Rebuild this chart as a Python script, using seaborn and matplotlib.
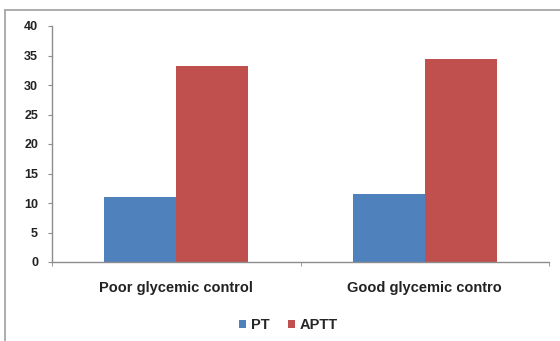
import pandas as pd
import matplotlib
matplotlib.use('Agg')
import matplotlib.pyplot as plt
from matplotlib.lines import Line2D
import seaborn as sns

groups = ['Poor glycemic control', 'Good glycemic contro']
tests = ['PT', 'APTT']
pt_values = [11.1, 11.5]
aptt_values = [33.2, 34.4]
y_ticks = [0, 5, 10, 15, 20, 25, 30, 35, 40]

sns.set_style('white')
plt.rcParams['font.family'] = ['Liberation Sans', 'DejaVu Sans']
plt.rcParams['font.weight'] = 'bold'

df = pd.DataFrame({
    'group': groups * 2,
    'test': ['PT'] * len(groups) + ['APTT'] * len(groups),
    'value': pt_values + aptt_values,
})

fig = plt.figure(figsize=(5.6, 3.41), dpi=100)
ax = fig.add_axes([52 / 560, 1 - 262 / 341, (549 - 52) / 560, (262 - 26) / 341])

sns.barplot(data=df, x='group', y='value', hue='test', hue_order=tests,
            palette=['#4F81BD', '#C0504D'], saturation=1, width=0.58,
            linewidth=0, ax=ax)

ax.set_xlim(-0.5, 1.5)
ax.set_ylim(0, 40)
ax.set_yticks(y_ticks)
ax.set_xlabel('')
ax.set_ylabel('')

for s in ['top', 'right']:
    ax.spines[s].set_visible(False)
for s in ['left', 'bottom']:
    ax.spines[s].set_color('#8c8c8c')
    ax.spines[s].set_linewidth(1)

ax.tick_params(axis='y', length=3, color='#8c8c8c', labelsize=9,
               labelcolor='#222222', pad=7, left=True)
ax.set_xticks([0, 1])
ax.set_xticklabels(groups)
ax.tick_params(axis='x', length=0, pad=14, labelsize=10.5, labelcolor='#222222')
ax.set_xticks([-0.5, 0.5, 1.5], minor=True)
ax.tick_params(axis='x', which='minor', length=3, color='#8c8c8c', bottom=True)

handles, labels = ax.get_legend_handles_labels()
ax.get_legend().remove()
fig.legend(handles, labels, loc='center', bbox_to_anchor=(0.515, 1 - 325 / 341),
           ncol=2, frameon=False, handlelength=0.5, handleheight=0.5,
           handletextpad=0.3, columnspacing=1.3, prop={'size': 10.5, 'weight': 'bold'})

# chart frame (only top and left edges visible in the crop)
fig.add_artist(Line2D([4.5 / 560, 4.5 / 560], [0, 1 - 9.5 / 341],
                      transform=fig.transFigure, color='#a6a6a6', lw=1.3))
fig.add_artist(Line2D([4.5 / 560, 1], [1 - 9.5 / 341, 1 - 9.5 / 341],
                      transform=fig.transFigure, color='#a6a6a6', lw=1.3))

fig.savefig('out.png', dpi=100)
